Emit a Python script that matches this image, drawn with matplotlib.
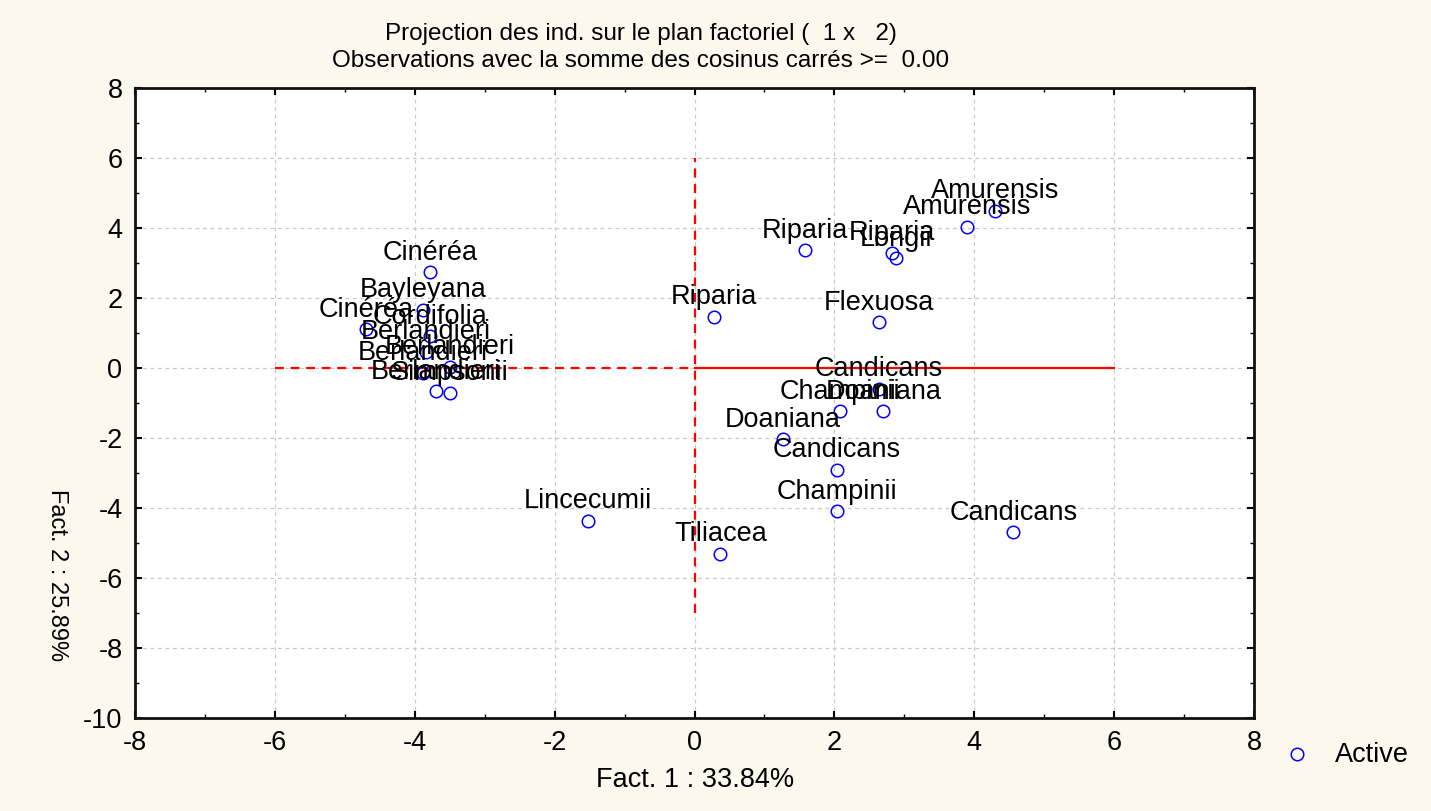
import numpy as np
import matplotlib.pyplot as plt
from matplotlib.ticker import MultipleLocator

plt.rcParams['font.family'] = ['Liberation Sans', 'DejaVu Sans']
plt.rcParams['axes.unicode_minus'] = False

# coordonnées des individus sur le plan factoriel (1 x 2)
labels = ["Cinéréa", "Bayleyana", "Cinéréa", "Cordifolia", "Berlandieri",
          "Berlandieri", "Berlandieri", "Berlandieri", "Simpsonii",
          "Amurensis", "Amurensis", "Riparia", "Riparia", "Longii",
          "Flexuosa", "Riparia", "Candicans", "Champinii", "Doaniana",
          "Doaniana", "Candicans", "Champinii", "Candicans",
          "Lincecumii", "Tiliacea"]
fact1 = [-3.78, -3.88, -4.70, -3.78, -3.84,
         -3.50, -3.88, -3.70, -3.50,
         4.30, 3.90, 1.58, 2.83, 2.88,
         2.64, 0.28, 2.64, 2.08, 2.70,
         1.26, 2.04, 2.04, 4.56,
         -1.52, 0.37]
fact2 = [2.74, 1.66, 1.11, 0.91, 0.46,
         0.03, -0.14, -0.66, -0.71,
         4.49, 4.03, 3.37, 3.29, 3.14,
         1.31, 1.46, -0.60, -1.23, -1.23,
         -2.03, -2.91, -4.09, -4.69,
         -4.37, -5.31]

fs = 19.5

fig = plt.figure(figsize=(14.31, 8.11), dpi=100)
fig.patch.set_facecolor('#fdf8ee')
ax = fig.add_axes([135 / 1431, 1 - 718 / 811, (1254 - 135) / 1431, (718 - 88) / 811])
ax.set_facecolor('white')

ax.set_xlim(-8, 8)
ax.set_ylim(-10, 8)
ax.xaxis.set_major_locator(MultipleLocator(2))
ax.yaxis.set_major_locator(MultipleLocator(2))
ax.xaxis.set_minor_locator(MultipleLocator(1))
ax.yaxis.set_minor_locator(MultipleLocator(1))
ax.tick_params(which='both', direction='in', top=True, right=True, labelsize=fs, color='black')
ax.tick_params(which='major', length=5, width=1.5, pad=9)
ax.tick_params(which='minor', length=3, width=1)
ax.grid(True, which='major', color='#c8c8c8', linestyle=(0, (3, 3)), linewidth=0.9)
ax.set_axisbelow(True)
for sp in ax.spines.values():
    sp.set_linewidth(2)
    sp.set_color('#111111')

# axes factoriels
ax.plot([-6, 0], [0, 0], color='red', linestyle=(0, (4, 3)), linewidth=1.6)
ax.plot([0, 6], [0, 0], color='red', linestyle='-', linewidth=1.6)
ax.plot([0, 0], [-7, 6], color='red', linestyle=(0, (4, 3)), linewidth=1.6)

ax.plot(fact1, fact2, linestyle='none', marker='o', markersize=9,
        markerfacecolor='none', markeredgecolor='blue', markeredgewidth=1.1)

for lab, x, y in zip(labels, fact1, fact2):
    ax.annotate(lab, (x, y), xytext=(0, 9), textcoords='offset points',
                ha='center', va='baseline', fontsize=fs, color='black')

fig.text(641 / 1431, 1 - 34 / 811, "Projection des ind. sur le plan factoriel (  1 x   2)",
         ha='center', va='center', fontsize=17.5)
fig.text(641 / 1431, 1 - 61 / 811, "Observations avec la somme des cosinus carrés >=  0.00",
         ha='center', va='center', fontsize=17.5)
fig.text(695 / 1431, 1 - 780 / 811, "Fact. 1 : 33.84%", ha='center', va='center', fontsize=fs)
fig.text(57 / 1431, 1 - 575 / 811, "Fact. 2 : 25.89%", ha='center', va='center',
         fontsize=17, rotation=270)

# légende
fig.lines.append(plt.Line2D([1297 / 1431], [1 - 754 / 811], transform=fig.transFigure,
                            marker='o', markersize=9, markerfacecolor='none',
                            markeredgecolor='blue', markeredgewidth=1.1, linestyle='none'))
fig.text(1335 / 1431, 1 - 755 / 811, "Active", ha='left', va='center', fontsize=fs)

fig.savefig('out.png', dpi=100, facecolor=fig.get_facecolor())
